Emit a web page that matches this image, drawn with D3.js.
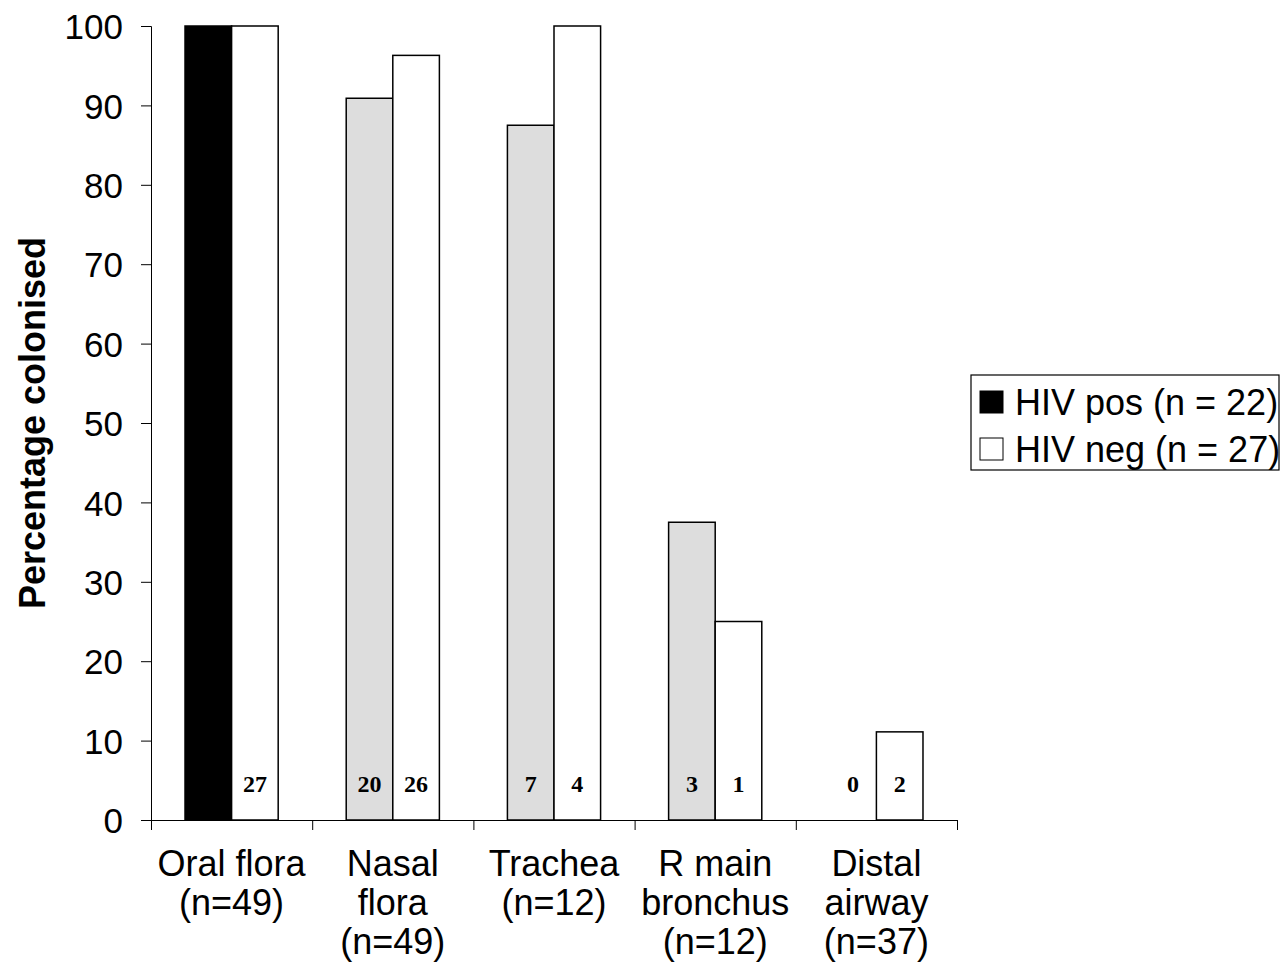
<!DOCTYPE html>
<html>
<head>
<meta charset="utf-8">
<title>Percentage colonised</title>
<script src="https://d3js.org/d3.v7.min.js"></script>
<style>
  * { margin: 0; padding: 0; }
  body { background: #fff; }
  svg text { font-family: Arial, "Liberation Sans", sans-serif; }
  .count { font-family: "Times New Roman", "Liberation Serif", serif; font-weight: bold; }
</style>
</head>
<body>
<div id="chart"></div>
<script>
// data
const categories = [
  ["Oral flora", "(n=49)"],
  ["Nasal", "flora", "(n=49)"],
  ["Trachea", "(n=12)"],
  ["R main", "bronchus", "(n=12)"],
  ["Distal", "airway", "(n=37)"]
];
const seriesNames = ["HIV pos (n = 22)", "HIV neg (n = 27)"];
const hivPos = [100, 90.9, 87.5, 37.5, 0];
const hivNeg = [100, 96.3, 100, 25, 11.1];
const hivPosCounts = [null, 20, 7, 3, 0];
const hivNegCounts = [27, 26, 4, 1, 2];
const yTicks = [0, 10, 20, 30, 40, 50, 60, 70, 80, 90, 100];

const W = 1281, H = 963;
const plotL = 151, plotR = 957, plotT = 26, plotB = 820;

const svg = d3.select("#chart").append("svg")
  .attr("width", W).attr("height", H);

const x = d3.scaleBand()
  .domain(d3.range(categories.length))
  .range([plotL, plotR])
  .padding(0);

const xEdge = d3.scaleLinear()
  .domain([0, categories.length])
  .range([plotL, plotR]);

const y = d3.scaleLinear().domain([0, 100]).range([plotB, plotT]);

const groupW = x.bandwidth() * 0.578;
const xs = d3.scaleBand().domain([0, 1]).range([0, groupW]).padding(0);

const rows = categories.map((c, i) => ({
  i, vals: [hivPos[i], hivNeg[i]], counts: [hivPosCounts[i], hivNegCounts[i]]
}));

const g = svg.selectAll("g.cat").data(rows).enter().append("g")
  .attr("class", "cat")
  .attr("transform", d => `translate(${x(d.i) + (x.bandwidth() - groupW) / 2},0)`);

g.selectAll("rect").data(d => d.vals.map((v, s) => ({ v, s, i: d.i })))
  .enter().append("rect")
  .attr("x", d => xs(d.s))
  .attr("width", xs.bandwidth())
  .attr("y", d => y(d.v))
  .attr("height", d => y(0) - y(d.v))
  .attr("fill", d => d.s === 1 ? "#ffffff" : (d.i === 0 ? "#000000" : "#dddddd"))
  .attr("stroke", "#000")
  .attr("stroke-width", 1.5)
  .attr("visibility", d => d.v > 0 ? "visible" : "hidden");

g.selectAll("text.count").data(d => d.counts.map((c, s) => ({ c, s })).filter(e => e.c !== null))
  .enter().append("text")
  .attr("class", "count")
  .attr("x", d => xs(d.s) + xs.bandwidth() / 2)
  .attr("y", 792)
  .attr("text-anchor", "middle")
  .style("font-size", "24px")
  .text(d => d.c);

// y axis
const yAxis = svg.append("g")
  .attr("transform", `translate(${plotL},0)`)
  .call(d3.axisLeft(y).tickValues(yTicks).tickSize(10).tickPadding(18));
yAxis.selectAll("text").style("font-size", "35px").attr("dy", "0.36em");
yAxis.selectAll("line, path").attr("stroke", "#000");

// x axis with ticks at category boundaries
const xAxis = svg.append("g")
  .attr("transform", `translate(0,${plotB})`)
  .call(d3.axisBottom(xEdge).tickValues(d3.range(categories.length + 1)).tickFormat("").tickSize(10).tickSizeOuter(0));
xAxis.selectAll("line, path").attr("stroke", "#000");

// category labels
const lab = svg.selectAll("text.catlab").data(categories).enter().append("text")
  .attr("class", "catlab")
  .attr("text-anchor", "middle")
  .style("font-size", "36px");
lab.selectAll("tspan").data((d, i) => d.map(t => ({ t, i })))
  .enter().append("tspan")
  .attr("x", d => x(d.i) + x.bandwidth() / 2)
  .attr("y", (d, k) => 876 + k * 39)
  .text(d => d.t);

// y axis title
svg.append("text")
  .attr("transform", `translate(45,${(plotT + plotB) / 2}) rotate(-90)`)
  .attr("text-anchor", "middle")
  .style("font-size", "36px")
  .style("font-weight", "bold")
  .text("Percentage colonised");

// legend
const leg = svg.append("g").attr("transform", "translate(971,375)");
leg.append("rect").attr("width", 308).attr("height", 95)
  .attr("fill", "#fff").attr("stroke", "#000").attr("stroke-width", 1.2);
seriesNames.forEach((name, s) => {
  const row = leg.append("g").attr("transform", `translate(9,${16 + s * 47})`);
  row.append("rect").attr("width", 23).attr("height", 22)
    .attr("fill", s === 0 ? "#000" : "#fff").attr("stroke", "#000").attr("stroke-width", 1);
  row.append("text").attr("x", 35).attr("y", 24)
    .style("font-size", "36px").text(name);
});
</script>
</body>
</html>
